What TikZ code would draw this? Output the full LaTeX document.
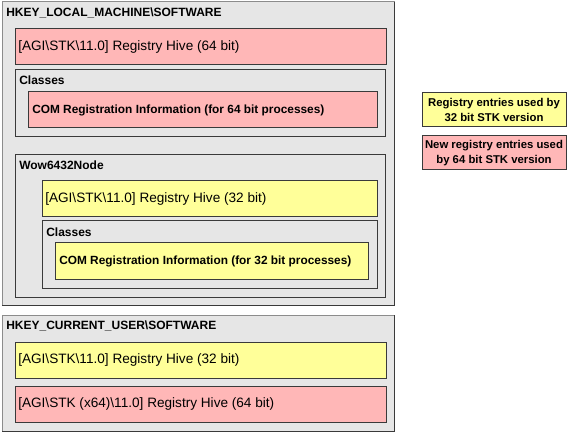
\documentclass[tikz,border=0pt]{standalone}
\usepackage{fontspec}
\setmainfont{Liberation Sans}
\definecolor{pnk}{HTML}{FFB7B7}
\definecolor{ylw}{HTML}{FFFF99}
\definecolor{gbg}{HTML}{E6E6E6}
\definecolor{gbd}{HTML}{8C8C8C}
\definecolor{dbd}{HTML}{3A3A3A}
\tikzset{
  x=0.75pt, y=-0.75pt,
  box/.style={rectangle, anchor=north west, inner sep=0pt, outer sep=0pt},
  outerbox/.style={box, fill=gbg, draw=gbd, line width=0.75pt},
  framebox/.style={box, draw=dbd, line width=0.75pt},
  pinkbox/.style={box, fill=pnk, draw=dbd, line width=0.75pt},
  yelbox/.style={box, fill=ylw, draw=dbd, line width=0.75pt},
  head/.style={anchor=west, inner sep=0pt, font=\bfseries\fontsize{9pt}{11pt}\selectfont},
  hive/.style={anchor=west, inner sep=0pt, font=\fontsize{10.2pt}{12pt}\selectfont},
  com/.style={anchor=west, inner sep=0pt, font=\bfseries\fontsize{8.9pt}{11pt}\selectfont},
  legtext/.style={anchor=center, inner sep=0pt, align=center, font=\bfseries\fontsize{8.5pt}{11.2pt}\selectfont},
}
\begin{document}
\begin{tikzpicture}
\useasboundingbox (0,0) rectangle (577,434);
% HKLM
\node[outerbox, minimum width=294pt, minimum height=227.25pt] (hklm) at (2,2) {};
\draw[dbd, line width=0.75pt] (hklm.north east) -- (hklm.south east) -- (hklm.south west);
\node[head] (hklmt) at ([xshift=3pt,yshift=-8.25pt]hklm.north west) {HKEY\_LOCAL\_MACHINE\textbackslash SOFTWARE};
\node[pinkbox, minimum width=278.25pt, minimum height=27pt] (hive64) at (15,29) {};
\node[hive] (hive64t) at ([xshift=2.25pt]hive64.west) {[AGI\textbackslash STK\textbackslash 11.0] Registry Hive (64 bit)};
\node[framebox, minimum width=277.5pt, minimum height=50.25pt] (cls1) at (15,70) {};
\node[head] (cls1t) at ([xshift=3pt,yshift=-7.5pt]cls1.north west) {Classes};
\node[pinkbox, minimum width=261.75pt, minimum height=27pt] (com64) at (28,92) {};
\node[com] (com64t) at ([xshift=3pt]com64.west) {COM Registration Information (for 64 bit processes)};
\node[framebox, minimum width=277.5pt, minimum height=106.5pt] (wow) at (15,155) {};
\node[head] (wowt) at ([xshift=3pt,yshift=-7.5pt]wow.north west) {Wow6432Node};
\node[yelbox, minimum width=251.25pt, minimum height=27pt] (hive32) at (42,181) {};
\node[hive] (hive32t) at ([xshift=2.25pt]hive32.west) {[AGI\textbackslash STK\textbackslash 11.0] Registry Hive (32 bit)};
\node[framebox, minimum width=251.25pt, minimum height=50.25pt] (cls2) at (42,221) {};
\node[head] (cls2t) at ([xshift=3pt,yshift=-8.25pt]cls2.north west) {Classes};
\node[yelbox, minimum width=234.75pt, minimum height=27pt] (com32) at (55,243) {};
\node[com] (com32t) at ([xshift=3pt]com32.west) {COM Registration Information (for 32 bit processes)};
% HKCU
\node[outerbox, minimum width=294pt, minimum height=87pt] (hkcu) at (2,315) {};
\draw[dbd, line width=0.75pt] (hkcu.north east) -- (hkcu.south east) -- (hkcu.south west);
\node[head] (hkcut) at ([xshift=3pt,yshift=-8.25pt]hkcu.north west) {HKEY\_CURRENT\_USER\textbackslash SOFTWARE};
\node[yelbox, minimum width=278.25pt, minimum height=27pt] (cu32) at (15,342) {};
\node[hive] (cu32t) at ([xshift=2.25pt]cu32.west) {[AGI\textbackslash STK\textbackslash 11.0] Registry Hive (32 bit)};
\node[pinkbox, minimum width=278.25pt, minimum height=27pt] (cu64) at (15,386) {};
\node[hive] (cu64t) at ([xshift=2.25pt]cu64.west) {[AGI\textbackslash STK (x64)\textbackslash 11.0] Registry Hive (64 bit)};
% Legend
\node[yelbox, minimum width=108pt, minimum height=25.5pt] (leg32) at (422,93) {};
\node[legtext] (leg32t) at (leg32.center) {Registry entries used by\\32 bit STK version};
\node[pinkbox, minimum width=108pt, minimum height=25.5pt] (leg64) at (422,136) {};
\node[legtext] (leg64t) at (leg64.center) {New registry entries used\\by 64 bit STK version};
\end{tikzpicture}
\end{document}
